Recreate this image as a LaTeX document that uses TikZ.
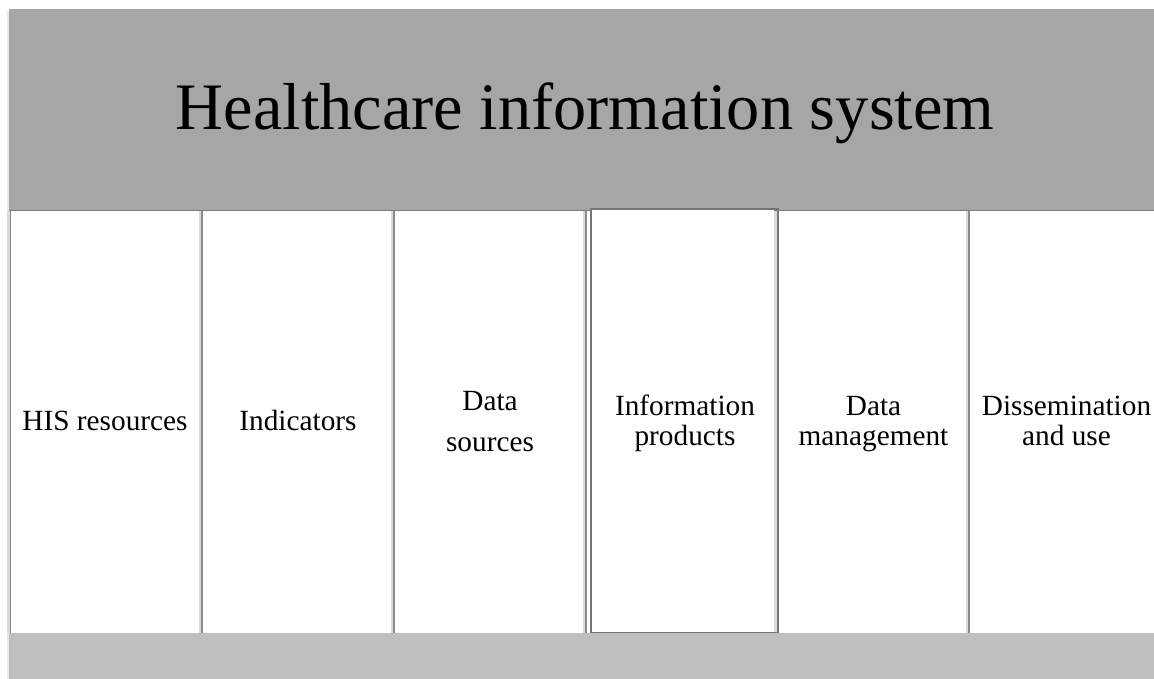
\documentclass[tikz,border=0pt]{standalone}
\usepackage{fontspec}
\setmainfont{Liberation Serif}
\definecolor{topgray}{HTML}{A6A6A6}
\definecolor{botgray}{HTML}{BFBFBF}
\definecolor{sepgray}{HTML}{8A8A8A}
\definecolor{shadegray}{HTML}{DADADA}
\begin{document}
\begin{tikzpicture}[x=1pt,y=-1pt,
  sepline/.style={draw=sepgray,line width=1.6pt},
  shadeline/.style={draw=shadegray,line width=2.5pt},
  coltext/.style={font=\fontsize{29.3}{30}\selectfont,align=center,inner sep=0pt,anchor=base},
  titletext/.style={font=\fontsize{66.4}{70}\selectfont,inner sep=0pt,anchor=base}]
\useasboundingbox (0,0) rectangle (1154,679);
\fill[white] (0,0) rectangle (1154,679);
% shadow of frame
\fill[shadegray!60] (7,11) rectangle (9,679);
% bars
\fill[topgray] (9,9) rectangle (1154,210);
\fill[white] (9,210) rectangle (1154,633);
\fill[botgray] (9,633) rectangle (1154,679);
% column separators with soft shadow
\foreach \x in {10.5,202,394,586,969}{
  \draw[shadeline] (\x-2,211) -- (\x-2,633);
  \draw[sepline] (\x,210) -- (\x,633);
}
\draw[draw=sepgray!90!black,line width=1.4pt] (9,210.3) -- (1154,210.3);
% raised information products box
\draw[shadeline] (775.5,211) -- (775.5,632);
\fill[white] (591,209) rectangle (774,632);
\draw[draw=sepgray!85!black,line width=1.4pt] (591,209) rectangle (778,632.5);
% texts
\node[titletext] (title) at (585,130) {Healthcare information system};
\node[coltext] (his) at (105,430.7) {HIS resources};
\node[coltext] (ind) at (298,430.7) {Indicators};
\node[coltext] (src) at (490,451.7) {Data\\[11pt]sources};
\node[coltext] (prod) at (685,445) {Information\\products};
\node[coltext] (mgmt) at (873.5,445) {Data\\management};
\node[coltext] (diss) at (1066.5,445) {Dissemination\\and use};
\end{tikzpicture}
\end{document}
